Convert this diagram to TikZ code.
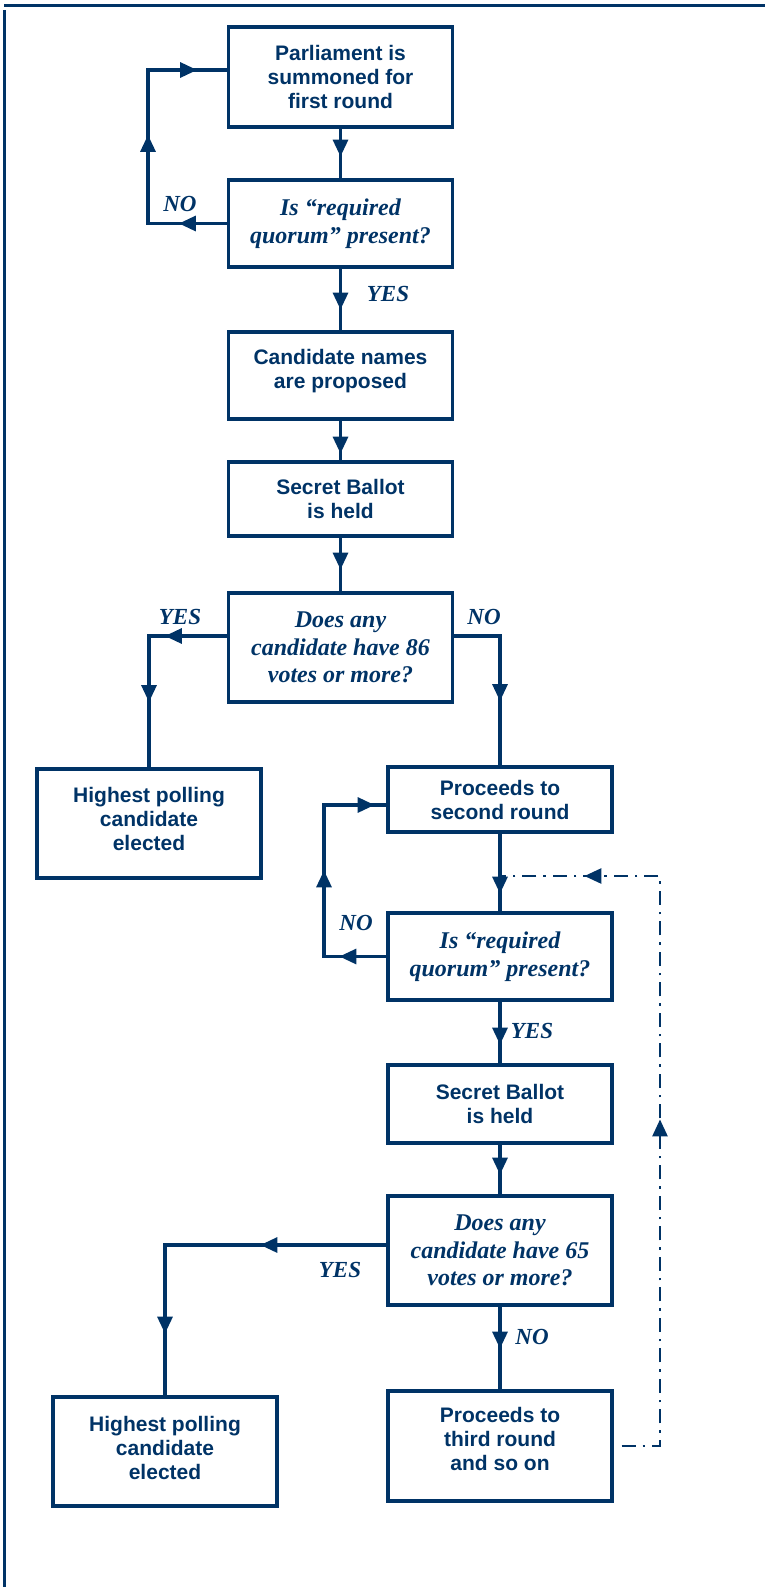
\documentclass[tikz,border=0pt]{standalone}
\usepackage{fontspec}
\setmainfont{Liberation Serif}
\setsansfont{Liberation Sans}
\usetikzlibrary{arrows.meta,decorations.markings}
\definecolor{navy}{RGB}{0,51,102}
\tikzset{
	flowtip/.tip={Triangle[length=17pt,width=15pt]},
	head/.style={postaction={decorate,decoration={markings,mark=at position #1 with {\arrow{flowtip}}}}},
	flow/.style={draw=navy,line width=3.2pt},
	dashflow/.style={draw=navy,line width=2.6pt,dash pattern=on 14pt off 7pt on 2.5pt off 7pt},
	proc/.style={draw=navy,line width=3.2pt,text=navy,align=center,inner sep=0pt,minimum width=224pt,font=\sffamily\bfseries\fontsize{21}{24}\selectfont},
	ques/.style={proc,font=\bfseries\itshape\fontsize{24}{27.5}\selectfont},
	answer/.style={text=navy,inner sep=0pt,font=\bfseries\itshape\fontsize{23}{26}\selectfont},
}
\begin{document}
\begin{tikzpicture}[x=1pt,y=-1pt]
		\useasboundingbox (0,0) rectangle (765,1587);
		% Draw frame
		\draw[navy,line width=3pt] (4,6) -- (765,6);
		\draw[navy,line width=3pt] (4,10) -- (4,1587);

		% First round
		\node[proc,minimum height=100pt] (round1) at (340.5,77) {Parliament is\\summoned for\\first round};
		\node[ques,minimum height=87pt] (quorum1) at (340.5,223.5) {Is “required\\quorum” present?};
		\node[proc,minimum height=87pt,text depth=14pt] (names) at (340.5,375.5) {Candidate names\\are proposed};
		\node[proc,minimum height=74pt] (ballot1) at (340.5,499) {Secret Ballot\\is held};
		\node[ques,minimum height=109pt] (votes1) at (340.5,647.5) {Does any\\candidate have 86\\votes or more?};
		\node[proc,minimum height=109pt,text depth=10pt] (elected1) at (149,823.5) {Highest polling\\candidate\\elected};

		% Second round
		\node[proc,minimum height=65pt] (round2) at (500,799.5) {Proceeds to\\second round};
		\node[ques,minimum height=87pt] (quorum2) at (500,956.5) {Is “required\\quorum” present?};
		\node[proc,minimum height=78pt] (ballot2) at (500,1104) {Secret Ballot\\is held};
		\node[ques,minimum height=109pt] (votes2) at (500,1250.5) {Does any\\candidate have 65\\votes or more?};
		\node[proc,minimum height=109pt,text depth=8pt] (elected2) at (165,1451.5) {Highest polling\\candidate\\elected};
		\node[proc,minimum height=110pt,text depth=14pt] (round3) at (500,1446) {Proceeds to\\third round\\and so on};

		\draw[flow,head=28pt] (round1) -- (quorum1);
		\draw[flow,head=48pt,head=167.5pt,head=281.5pt] (quorum1.west) -| (148,70) -- (round1.west |- 0,70);
		\draw[flow,head=41pt] (quorum1) -- (names);
		\draw[flow,head=33pt] (names) -- (ballot1);
		\draw[flow,head=32pt] (ballot1) -- (votes1);
		\draw[flow,head=62pt,head=144pt] (votes1.west |- 0,636) -| (elected1);
		\draw[flow,head=111pt] (votes1.east |- 0,636) -| (round2);
		\draw[flow,head=60pt] (round2) -- (quorum2);
		\draw[flow,head=47pt,head=148.5pt,head=264.5pt] (quorum2.west) -| (324,805) -- (round2.west |- 0,805);
		\draw[flow,head=43pt] (quorum2) -- (ballot2);
		\draw[flow,head=30pt] (ballot2) -- (votes2);
		\draw[flow,head=126pt,head=310pt] (votes2.west |- 0,1245) -| (elected2);
		\draw[flow,head=42pt] (votes2) -- (round3);

		% Back to the quorum check
		\coordinate (back) at ([xshift=8pt]round3.east);
		\draw[dashflow,head=365pt,head=684pt] (back) -| (660,876) -- (quorum2.north |- 0,876);

		\node[answer] (no1) at (180,204) {NO};
		\node[answer] (yes1) at (388,294) {YES};
		\node[answer] (yes2) at (180,617) {YES};
		\node[answer] (no2) at (484,617) {NO};
		\node[answer] (no3) at (356,923) {NO};
		\node[answer] (yes3) at (532,1031) {YES};
		\node[answer] (yes4) at (340,1270) {YES};
		\node[answer] (no4) at (532,1337) {NO};
	\end{tikzpicture}
\end{document}
